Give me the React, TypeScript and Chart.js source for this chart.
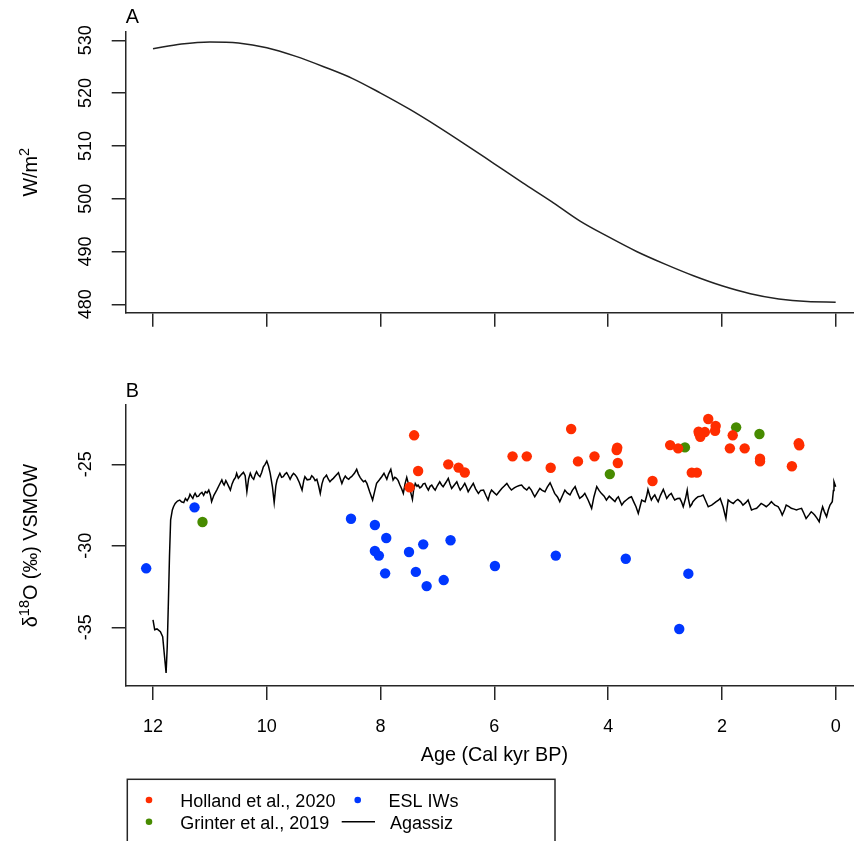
import React, { useEffect, useRef } from 'react';
import { Chart, registerables } from 'chart.js';

Chart.register(...registerables);

// ---------------- data ----------------
const ageTicks = [12, 10, 8, 6, 4, 2, 0];
const insolationTicks = [480, 490, 500, 510, 520, 530];
const d18OTicks = [-35, -30, -25];

const insolationAge = [12, 11.5, 11, 10.5, 10, 9.5, 9, 8.5, 8, 7.5, 7, 6.5, 6, 5.5, 5, 4.5, 4, 3.5, 3, 2.5, 2, 1.5, 1, 0.5, 0];
const insolationWm2 = [528.4, 529.3, 529.7, 529.5, 528.6, 527.0, 525.0, 522.8, 520.0, 517.0, 513.7, 510.2, 506.6, 503.0, 499.5, 495.8, 492.8, 490.0, 487.6, 485.4, 483.5, 482.0, 481.0, 480.5, 480.4];

const agassizAge = [
  12.00, 11.97, 11.93, 11.87, 11.83, 11.80, 11.77, 11.75, 11.73, 11.71, 11.69, 11.66, 11.64, 11.61, 11.57, 11.53, 11.50, 11.46, 11.43, 11.40,
  11.37, 11.35, 11.32, 11.30, 11.28, 11.26, 11.23, 11.20, 11.17, 11.14, 11.11, 11.08, 11.05, 11.02, 10.99, 10.97, 10.93, 10.88, 10.84, 10.79,
  10.77, 10.75, 10.72, 10.70, 10.67, 10.64, 10.61, 10.58, 10.55, 10.53, 10.50, 10.47, 10.44, 10.41, 10.38, 10.35, 10.32, 10.29, 10.26, 10.23,
  10.20, 10.18, 10.15, 10.12, 10.09, 10.06, 10.03, 10.00, 9.97, 9.94, 9.90, 9.87, 9.84, 9.82, 9.79, 9.77, 9.74, 9.71, 9.68, 9.65,
  9.62, 9.59, 9.56, 9.53, 9.50, 9.47, 9.43, 9.38, 9.35, 9.33, 9.29, 9.24, 9.21, 9.18, 9.15, 9.12, 9.09, 9.06, 9.03, 9.00,
  8.97, 8.95, 8.92, 8.89, 8.86, 8.83, 8.79, 8.74, 8.71, 8.68, 8.65, 8.62, 8.59, 8.56, 8.53, 8.51, 8.46, 8.42, 8.39, 8.36,
  8.33, 8.30, 8.27, 8.24, 8.19, 8.14, 8.10, 8.07, 8.02, 7.98, 7.94, 7.89, 7.86, 7.82, 7.78, 7.75, 7.72, 7.69, 7.66, 7.63,
  7.60, 7.57, 7.54, 7.51, 7.48, 7.44, 7.42, 7.39, 7.36, 7.34, 7.31, 7.28, 7.25, 7.22, 7.19, 7.16, 7.13, 7.10, 7.07, 7.04,
  7.00, 6.96, 6.93, 6.90, 6.85, 6.81, 6.78, 6.75, 6.71, 6.66, 6.63, 6.60, 6.56, 6.52, 6.49, 6.46, 6.42, 6.37, 6.33, 6.28,
  6.24, 6.19, 6.15, 6.11, 6.08, 6.05, 6.00, 5.96, 5.92, 5.87, 5.83, 5.78, 5.74, 5.70, 5.65, 5.61, 5.56, 5.52, 5.48, 5.43,
  5.39, 5.35, 5.32, 5.29, 5.24, 5.20, 5.16, 5.11, 5.07, 5.02, 4.98, 4.94, 4.89, 4.85, 4.80, 4.76, 4.72, 4.67, 4.63, 4.58,
  4.54, 4.50, 4.45, 4.41, 4.35, 4.29, 4.25, 4.20, 4.16, 4.12, 4.07, 4.03, 3.98, 3.94, 3.88, 3.85, 3.82, 3.79, 3.76, 3.72,
  3.68, 3.63, 3.59, 3.55, 3.51, 3.47, 3.44, 3.41, 3.38, 3.35, 3.32, 3.30, 3.27, 3.24, 3.21, 3.18, 3.15, 3.12, 3.08, 3.03,
  3.00, 2.97, 2.93, 2.89, 2.86, 2.83, 2.78, 2.74, 2.71, 2.68, 2.64, 2.61, 2.59, 2.56, 2.53, 2.51, 2.46, 2.42, 2.37, 2.33,
  2.29, 2.24, 2.21, 2.18, 2.14, 2.10, 2.06, 2.03, 1.98, 1.93, 1.91, 1.89, 1.85, 1.80, 1.76, 1.72, 1.67, 1.63, 1.58, 1.54,
  1.51, 1.48, 1.44, 1.39, 1.35, 1.31, 1.26, 1.22, 1.17, 1.13, 1.10, 1.07, 1.04, 1.01, 0.97, 0.94, 0.90, 0.87, 0.82, 0.78,
  0.73, 0.69, 0.65, 0.60, 0.56, 0.52, 0.47, 0.43, 0.40, 0.37, 0.33, 0.29, 0.26, 0.23, 0.20, 0.16, 0.13, 0.10, 0.06, 0.04,
  0.03, 0.00,
];
const agassizD18O = [
  -34.55, -35.15, -35.1, -35.27, -35.58, -36.7, -37.8, -36.2, -33.5, -30.6, -28.4, -27.8, -27.6, -27.4, -27.25, -27.19, -27.3, -27.35, -27.1, -27.23,
  -27.05, -26.84, -27.0, -27.09, -26.9, -26.78, -26.98, -26.95, -26.8, -26.72, -26.9, -26.68, -26.75, -26.58, -26.9, -27.29, -26.9, -26.58, -26.3, -25.96,
  -26.15, -26.27, -26.0, -26.13, -26.35, -26.58, -26.2, -25.96, -25.8, -25.55, -25.85, -25.72, -25.6, -25.49, -25.7, -26.68, -25.9, -25.55, -25.8, -25.92,
  -25.6, -25.45, -25.65, -25.76, -25.5, -25.15, -25.0, -24.8, -25.1, -25.55, -26.4, -27.35, -26.3, -25.96, -25.7, -25.55, -25.8, -25.76, -25.6, -25.51,
  -25.7, -25.92, -25.7, -25.55, -25.65, -25.8, -26.1, -26.58, -26.0, -25.76, -25.95, -25.92, -25.7, -25.8, -26.0, -25.92, -26.3, -26.78, -26.2, -25.86,
  -25.75, -25.66, -25.9, -26.07, -25.95, -25.86, -25.7, -25.51, -25.85, -26.17, -25.9, -25.72, -25.85, -25.92, -25.8, -25.76, -25.55, -25.31, -25.6, -25.8,
  -25.95, -26.07, -26.0, -26.17, -26.7, -27.19, -26.6, -26.17, -25.95, -25.76, -25.55, -25.92, -25.6, -25.31, -25.96, -25.8, -25.86, -26.0, -26.27, -26.5,
  -26.78, -26.2, -25.8, -26.2, -26.58, -27.15, -26.6, -26.17, -26.35, -26.27, -26.45, -26.37, -26.2, -26.17, -26.4, -26.58, -26.35, -26.27, -26.45, -26.58,
  -26.3, -26.07, -26.25, -26.37, -26.1, -25.86, -26.2, -26.48, -26.3, -26.07, -26.35, -26.58, -26.4, -26.17, -26.4, -26.68, -26.45, -26.17, -26.5, -26.78,
  -26.6, -26.58, -26.9, -27.19, -26.8, -26.58, -26.75, -26.88, -26.7, -26.48, -26.35, -26.17, -26.4, -26.58, -26.45, -26.37, -26.3, -26.27, -26.45, -26.58,
  -26.4, -26.58, -26.8, -26.99, -26.7, -26.48, -26.6, -26.68, -26.4, -26.13, -26.45, -26.78, -27.0, -27.29, -26.9, -26.58, -26.75, -26.88, -26.6, -26.37,
  -26.75, -27.09, -26.95, -26.78, -27.2, -27.7, -27.0, -26.37, -26.6, -26.78, -26.95, -27.19, -26.95, -27.09, -27.29, -27.1, -26.99, -27.25, -27.5, -27.3,
  -27.19, -27.05, -26.99, -27.3, -27.6, -28.01, -27.6, -27.19, -27.25, -27.29, -26.9, -26.54, -26.9, -27.19, -27.0, -26.88, -27.1, -27.29, -26.9, -26.54,
  -26.8, -27.09, -26.9, -26.78, -27.0, -27.19, -27.1, -27.09, -27.3, -27.6, -27.1, -26.58, -27.1, -27.6, -27.45, -27.29, -27.1, -26.99, -26.95, -26.88,
  -27.2, -27.6, -27.55, -27.5, -27.4, -27.29, -27.2, -27.09, -27.6, -28.32, -27.7, -27.19, -27.3, -27.4, -27.25, -27.15, -27.3, -27.5, -27.35, -27.19,
  -27.5, -27.8, -27.75, -27.7, -27.55, -27.4, -27.5, -27.6, -27.45, -27.29, -27.4, -27.5, -27.55, -27.6, -27.85, -28.11, -27.8, -27.5, -27.6, -27.7,
  -27.75, -27.8, -27.75, -27.7, -28.0, -28.32, -28.1, -27.91, -28.0, -28.11, -28.3, -28.52, -28.0, -27.6, -27.9, -28.21, -27.8, -27.5, -27.29, -26.6,
  -26.07, -26.37,
];

const hollandAge = [7.49, 7.41, 7.34, 6.81, 6.63, 6.52, 5.68, 5.43, 5.01, 4.65, 4.53, 4.24, 3.84, 3.85, 3.83, 3.22, 2.91, 2.77, 2.53, 2.44, 2.41, 2.38, 2.30, 2.40, 2.24, 2.11, 2.12, 1.81, 1.86, 1.60, 1.33, 1.33, 0.77, 0.65, 0.64];
const hollandD18O = [-26.41, -23.22, -25.41, -25.0, -25.2, -25.5, -24.51, -24.51, -25.21, -22.83, -24.82, -24.51, -23.98, -24.12, -24.92, -26.02, -23.82, -24.02, -25.51, -25.51, -23.0, -23.31, -23.02, -23.12, -22.22, -22.65, -22.94, -23.22, -24.02, -24.02, -24.66, -24.82, -25.12, -23.71, -23.83];

const grinterAge = [11.13, 3.97, 2.65, 1.75, 1.34];
const grinterD18O = [-28.54, -25.6, -23.96, -22.73, -23.14];

const eslAge = [12.12, 11.27, 8.52, 8.10, 7.90, 8.10, 8.03, 7.92, 7.50, 7.38, 7.25, 7.19, 6.89, 6.77, 5.99, 4.92, 3.69, 2.59, 2.75];
const eslD18O = [-31.38, -27.64, -28.34, -28.72, -29.52, -30.32, -30.6, -31.69, -30.38, -31.6, -29.91, -32.47, -32.1, -29.66, -31.24, -30.6, -30.79, -31.71, -35.1];

// ---------------- styling ----------------
const FONT = '"Liberation Sans", Arial, Helvetica, sans-serif';
const AXIS = '#262626';
const RED = '#FF2D00';
const GREEN = '#478B00';
const BLUE = '#0037FF';
const CANVAS_W = 900;
const AREA_LEFT = 125.7;
const AREA_RIGHT = 863;

const pts = (xs: number[], ys: number[]) => xs.map((x, i) => ({ x, y: ys[i] }));

type Part = { t: string; sup?: boolean };

function textPlugin(cfg: {
  panel: string;
  panelBaseline: number;
  yTicks: number[];
  yTitle: Part[];
  xTitle?: string;
  xTitleBaseline?: number;
  legend?: { top: number; row1: number; row2: number };
}) {
  return {
    id: 'rtext',
    afterDraw(chart: any) {
      const ctx: CanvasRenderingContext2D = chart.ctx;
      const area = chart.chartArea;
      const ys = chart.scales.y;
      ctx.save();
      ctx.fillStyle = '#000';
      // y tick labels, rotated like R
      ctx.font = `18px ${FONT}`;
      for (const v of cfg.yTicks) {
        const py = ys.getPixelForValue(v);
        ctx.save();
        ctx.translate(90.7, py);
        ctx.rotate(-Math.PI / 2);
        ctx.textAlign = 'center';
        ctx.textBaseline = 'alphabetic';
        ctx.fillText(String(v), 0, 0);
        ctx.restore();
      }
      // y title with superscripts
      const mainSize = 19.8;
      const supSize = 14.5;
      const widths = cfg.yTitle.map((p) => {
        ctx.font = `${p.sup ? supSize : mainSize}px ${FONT}`;
        return ctx.measureText(p.t).width;
      });
      const total = widths.reduce((a, b) => a + b, 0);
      ctx.save();
      ctx.translate(36.5, (area.top + area.bottom) / 2);
      ctx.rotate(-Math.PI / 2);
      ctx.textAlign = 'left';
      ctx.textBaseline = 'alphabetic';
      let xx = -total / 2;
      cfg.yTitle.forEach((p, i) => {
        ctx.font = `${p.sup ? supSize : mainSize}px ${FONT}`;
        ctx.fillText(p.t, xx, p.sup ? -8 : 0);
        xx += widths[i];
      });
      ctx.restore();
      // panel letter
      ctx.font = `19.8px ${FONT}`;
      ctx.textAlign = 'left';
      ctx.textBaseline = 'alphabetic';
      ctx.fillText(cfg.panel, area.left, cfg.panelBaseline);
      // x title
      if (cfg.xTitle) {
        ctx.font = `19.8px ${FONT}`;
        ctx.textAlign = 'center';
        ctx.fillText(cfg.xTitle, (area.left + area.right) / 2, cfg.xTitleBaseline as number);
      }
      // legend
      if (cfg.legend) {
        const L = cfg.legend;
        ctx.strokeStyle = AXIS;
        ctx.lineWidth = 1.5;
        ctx.strokeRect(127.3, L.top, 555 - 127.3, 200);
        const dot = (x: number, y: number, c: string) => {
          ctx.beginPath();
          ctx.fillStyle = c;
          ctx.arc(x, y, 3.3, 0, Math.PI * 2);
          ctx.fill();
        };
        dot(149, L.row1, RED);
        dot(149, L.row2, GREEN);
        dot(357.7, L.row1, BLUE);
        ctx.beginPath();
        ctx.strokeStyle = '#000';
        ctx.lineWidth = 1.5;
        ctx.moveTo(341.7, L.row2);
        ctx.lineTo(375, L.row2);
        ctx.stroke();
        ctx.fillStyle = '#000';
        ctx.font = `18px ${FONT}`;
        ctx.textAlign = 'left';
        ctx.textBaseline = 'alphabetic';
        ctx.fillText('Holland et al., 2020', 180.3, L.row1 + 6.9);
        ctx.fillText('Grinter et al., 2019', 180.3, L.row2 + 6.9);
        ctx.fillText('ESL IWs', 388.6, L.row1 + 6.9);
        ctx.fillText('Agassiz', 390, L.row2 + 6.9);
      }
      ctx.restore();
    },
  };
}

function xScale(height: number, showLabels: boolean) {
  return {
    type: 'linear',
    reverse: true,
    min: -0.48,
    max: 12.48,
    afterBuildTicks: (s: any) => {
      s.ticks = ageTicks.map((v) => ({ value: v }));
    },
    afterFit: (s: any) => {
      s.height = height;
    },
    border: { display: true, color: AXIS, width: 1.5 },
    grid: { display: true, drawOnChartArea: false, drawTicks: true, tickLength: 14, color: AXIS, lineWidth: 1.5 },
    ticks: {
      display: showLabels,
      autoSkip: false,
      minRotation: 0,
      maxRotation: 0,
      padding: 16,
      color: '#000',
      font: { family: FONT, size: 18 },
      callback: (v: any) => String(v),
    },
  };
}

function yScale(min: number, max: number, ticks: number[]) {
  return {
    type: 'linear',
    min,
    max,
    afterBuildTicks: (s: any) => {
      s.ticks = ticks.map((v) => ({ value: v }));
    },
    afterFit: (s: any) => {
      s.width = AREA_LEFT;
    },
    border: { display: true, color: AXIS, width: 1.5 },
    grid: { display: true, drawOnChartArea: false, drawTicks: true, tickLength: 14, color: AXIS, lineWidth: 1.5 },
    ticks: { display: false },
  };
}

export default function App() {
  const topRef = useRef<HTMLCanvasElement>(null);
  const botRef = useRef<HTMLCanvasElement>(null);

  useEffect(() => {
    const common = {
      animation: false,
      responsive: false,
      devicePixelRatio: 1,
      plugins: { legend: { display: false }, tooltip: { enabled: false }, title: { display: false } },
    };

    const top = new Chart(topRef.current as HTMLCanvasElement, {
      type: 'scatter',
      data: {
        datasets: [
          {
            label: 'Insolation',
            data: pts(insolationAge, insolationWm2),
            showLine: true,
            borderColor: '#222',
            borderWidth: 1.5,
            pointRadius: 0,
            cubicInterpolationMode: 'monotone',
          } as any,
        ],
      },
      options: {
        ...common,
        layout: { padding: { left: 0, right: CANVAS_W - AREA_RIGHT, top: 31.7, bottom: 0 } },
        scales: {
          x: xScale(370 - 312.7, false),
          y: yScale(478.4, 531.63, insolationTicks),
        },
      } as any,
      plugins: [
        textPlugin({
          panel: 'A',
          panelBaseline: 23.3,
          yTicks: insolationTicks,
          yTitle: [{ t: 'W/m' }, { t: '2', sup: true }],
        }),
      ],
    });

    const bot = new Chart(botRef.current as HTMLCanvasElement, {
      type: 'scatter',
      data: {
        datasets: [
          {
            label: 'Agassiz',
            data: pts(agassizAge, agassizD18O),
            showLine: true,
            borderColor: '#000',
            borderWidth: 1.5,
            pointRadius: 0,
            tension: 0,
            order: 3,
          } as any,
          {
            label: 'Holland et al., 2020',
            data: pts(hollandAge, hollandD18O),
            backgroundColor: RED,
            borderWidth: 0,
            pointRadius: 5.2,
            order: 0,
          },
          {
            label: 'Grinter et al., 2019',
            data: pts(grinterAge, grinterD18O),
            backgroundColor: GREEN,
            borderWidth: 0,
            pointRadius: 5.2,
            order: 0,
          },
          {
            label: 'ESL IWs',
            data: pts(eslAge, eslD18O),
            backgroundColor: BLUE,
            borderWidth: 0,
            pointRadius: 5.2,
            order: 0,
          },
        ],
      },
      options: {
        ...common,
        layout: { padding: { left: 0, right: CANVAS_W - AREA_RIGHT, top: 35, bottom: 0 } },
        scales: {
          x: xScale(471 - 316, true),
          y: yScale(-38.6, -21.36, d18OTicks),
        },
      } as any,
      plugins: [
        textPlugin({
          panel: 'B',
          panelBaseline: 26.7,
          yTicks: d18OTicks,
          yTitle: [{ t: 'δ' }, { t: '18', sup: true }, { t: 'O (‰) VSMOW' }],
          xTitle: 'Age (Cal kyr BP)',
          xTitleBaseline: 391,
          legend: { top: 409.3, row1: 430, row2: 451.7 },
        }),
      ],
    });

    return () => {
      top.destroy();
      bot.destroy();
    };
  }, []);

  return (
    <div
      style={{
        position: 'fixed',
        left: 0,
        top: 0,
        width: 854,
        height: 841,
        overflow: 'hidden',
        background: '#fff',
      }}
    >
      <canvas ref={topRef} width={CANVAS_W} height={370} style={{ position: 'absolute', left: 0, top: 0 }} />
      <canvas ref={botRef} width={CANVAS_W} height={471} style={{ position: 'absolute', left: 0, top: 370 }} />
    </div>
  );
}
